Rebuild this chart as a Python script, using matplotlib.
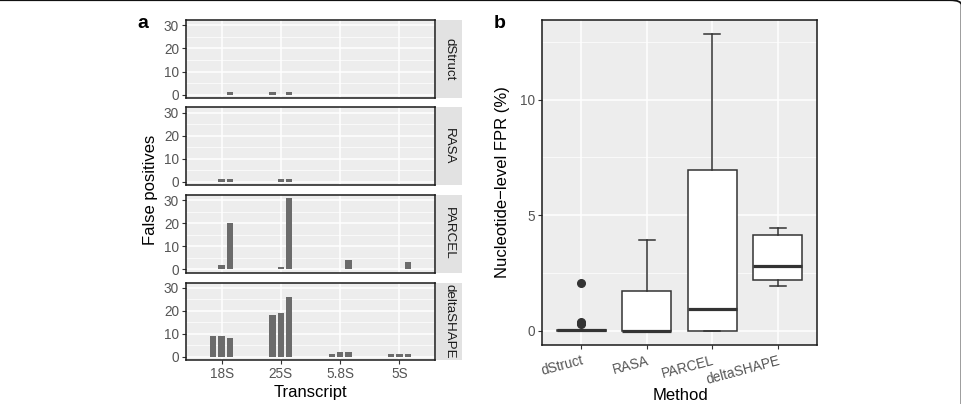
import matplotlib
matplotlib.use("Agg")
import matplotlib.pyplot as plt
from matplotlib.patches import FancyBboxPatch
import numpy as np

plt.rcParams['font.family'] = ['Liberation Sans', 'DejaVu Sans']

# ---------------- data ----------------
categories = ['18S', '25S', '5.8S', '5S']
methods = ['dStruct', 'RASA', 'PARCEL', 'deltaSHAPE']
# false positives: per transcript, three replicate groups
fp_dstruct = [[0, 0, 1], [1, 0, 1], [0, 0, 0], [0, 0, 0]]
fp_rasa = [[0, 1, 1], [0, 1, 1], [0, 0, 0], [0, 0, 0]]
fp_parcel = [[0, 2, 20], [0, 1, 31], [0, 0, 4], [0, 0, 3]]
fp_deltashape = [[9, 9, 8], [18, 19, 26], [1, 2, 2], [1, 1, 1]]
fp_all = [fp_dstruct, fp_rasa, fp_parcel, fp_deltashape]

# nucleotide-level FPR (%) box statistics per method
box_q1 = [0.0, 0.0, 0.0, 2.2]
box_med = [0.02, 0.0, 0.95, 2.8]
box_q3 = [0.05, 1.72, 6.95, 4.13]
box_wlo = [0.0, 0.0, 0.0, 1.92]
box_whi = [0.05, 3.94, 12.85, 4.43]
box_fliers = [[2.05, 0.27, 0.32, 0.38], [], [], []]

W, H = 962, 404
fig = plt.figure(figsize=(W / 100, H / 100), dpi=100)


def ax_px(l, t, r, b):
    return fig.add_axes([l / W, 1 - b / H, (r - l) / W, (b - t) / H])


BG = '#EDEDED'
TXT = '#555555'
BARC = '#6B6B6B'


def style(ax):
    ax.set_facecolor(BG)
    for s in ax.spines.values():
        s.set_color('#1a1a1a')
        s.set_linewidth(1.1)
    ax.tick_params(axis='both', colors='#333333', labelcolor=TXT,
                   labelsize=9.8, length=3, width=0.8, pad=2)
    ax.set_axisbelow(True)


# ---------------- panel a ----------------
panel_rows = [(20, 98), (107.5, 185), (195, 272.5), (282.5, 360)]
offsets = [-0.14, 0.0, 0.14]
xc = np.arange(len(categories))
for k, (t, b) in enumerate(panel_rows):
    ax = ax_px(186, t, 435, b)
    style(ax)
    data = fp_all[k]
    for j, off in enumerate(offsets):
        vals = [data[i][j] for i in range(len(categories))]
        ax.bar(xc + off, vals, width=0.105, color=BARC, zorder=3)
    ax.set_xlim(-0.6, 3.6)
    ax.set_ylim(-1.4, 32.3)
    ax.set_yticks([0, 10, 20, 30])
    ax.set_yticks([5, 15, 25], minor=True)
    ax.set_xticks(xc)
    ax.grid(which='major', color='white', linewidth=1.1)
    ax.grid(which='minor', axis='y', color='white', linewidth=0.5)
    ax.tick_params(which='minor', length=0)
    if k == len(panel_rows) - 1:
        ax.set_xticklabels(categories)
    else:
        ax.tick_params(axis='x', length=0, labelbottom=False)
    # strip
    sax = ax_px(436.5, t, 462, b)
    sax.set_facecolor('#E2E2E2')
    for s in sax.spines.values():
        s.set_visible(False)
    sax.set_xticks([])
    sax.set_yticks([])
    sax.text(0.5, 0.5, methods[k], rotation=-90, ha='center', va='center',
             fontsize=9.6, color='#1A1A1A', transform=sax.transAxes)

fig.text(150 / W, 1 - 190 / H, 'False positives', rotation=90,
         ha='center', va='center', fontsize=12, color='black')
fig.text(310 / W, 1 - 392 / H, 'Transcript', ha='center', va='center',
         fontsize=12, color='black')
fig.text(143 / W, 1 - 24 / H, 'a', ha='center', va='center',
         fontsize=14, fontweight='bold')

# ---------------- panel b ----------------
axb = ax_px(542, 20, 817, 345)
style(axb)
stats = []
for i, m in enumerate(methods):
    stats.append(dict(label=m, q1=box_q1[i], med=box_med[i], q3=box_q3[i],
                      whislo=box_wlo[i], whishi=box_whi[i],
                      fliers=box_fliers[i]))
axb.bxp(stats, positions=xc, widths=0.75, patch_artist=True,
        boxprops=dict(facecolor='white', edgecolor='#333333', linewidth=1.1),
        medianprops=dict(color='#333333', linewidth=2.3),
        whiskerprops=dict(color='#333333', linewidth=1.1),
        capprops=dict(color='#333333', linewidth=1.1),
        capwidths=0.25,
        flierprops=dict(marker='o', markerfacecolor='#333333',
                        markeredgecolor='#333333', markersize=5.5),
        zorder=3)
axb.set_xlim(-0.6, 3.6)
axb.set_ylim(-0.62, 13.45)
axb.set_yticks([0, 5, 10])
axb.set_yticks([2.5, 7.5, 12.5], minor=True)
axb.set_xticks(xc)
axb.set_xticklabels(methods, rotation=15, ha='right', rotation_mode='anchor')
axb.grid(which='major', color='white', linewidth=1.1)
axb.grid(which='minor', axis='y', color='white', linewidth=0.5)
axb.tick_params(which='minor', length=0)
axb.tick_params(axis='x', pad=3)

fig.text(503 / W, 1 - 182 / H, 'Nucleotide\u2212level FPR (%)', rotation=90,
         ha='center', va='center', fontsize=12, color='black')
fig.text(680 / W, 1 - 396 / H, 'Method', ha='center', va='center',
         fontsize=12, color='black')
fig.text(500 / W, 1 - 24 / H, 'b', ha='center', va='center',
         fontsize=14, fontweight='bold')

# frame (top and right visible, rounded corner)
frame = FancyBboxPatch((-20 / W, -20 / H), (W + 19.5) / W, (H + 19.8) / H,
                       boxstyle='round,pad=0,rounding_size=0.012',
                       transform=fig.transFigure, fill=False,
                       edgecolor='#111111', linewidth=1.3, clip_on=False)
fig.patches.append(frame)

fig.savefig('out.png', dpi=100)
